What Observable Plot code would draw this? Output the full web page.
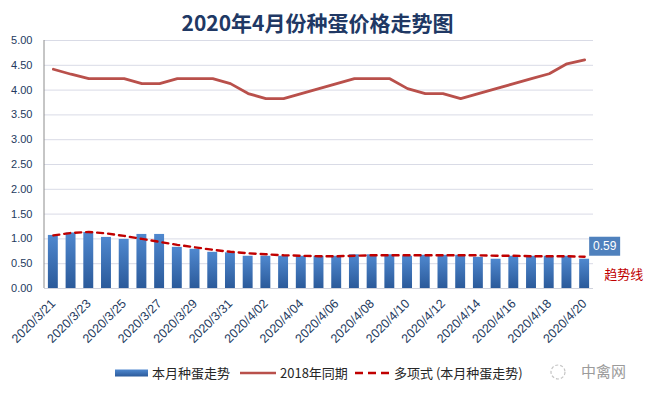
<!DOCTYPE html>
<html><head><meta charset="utf-8">
<script src="https://cdn.jsdelivr.net/npm/d3@7"></script>
<script src="https://cdn.jsdelivr.net/npm/@observablehq/plot@0.6"></script>
<style>
body{margin:0;background:#fff;}
#wrap{position:relative;width:647px;height:393px;overflow:hidden;background:#fff;font-family:"Noto Sans CJK SC","Liberation Sans",sans-serif;}
#title{position:absolute;top:7px;left:0;width:635px;text-align:center;font-size:21px;font-weight:bold;color:#203864;line-height:30px;}
#chart{position:absolute;top:0;left:0;}
.lg{position:absolute;font-size:13px;color:#262626;line-height:18px;top:364px;white-space:nowrap;}
</style>
</head><body>
<div id="wrap">
  <div id="chart"></div>
  <div id="title">2020年4月份种蛋价格走势图</div>
  <div id="legend"></div>
</div>
<script>
const dates = ["2020/3/21","2020/3/22","2020/3/23","2020/3/24","2020/3/25","2020/3/26","2020/3/27","2020/3/28","2020/3/29","2020/3/30","2020/3/31",
  "2020/4/01","2020/4/02","2020/4/03","2020/4/04","2020/4/05","2020/4/06","2020/4/07","2020/4/08","2020/4/09","2020/4/10",
  "2020/4/11","2020/4/12","2020/4/13","2020/4/14","2020/4/15","2020/4/16","2020/4/17","2020/4/18","2020/4/19","2020/4/20"];
const price2020 = [1.07,1.12,1.13,1.03,0.99,1.09,1.09,0.83,0.79,0.73,0.72,0.65,0.65,0.65,0.65,0.65,0.65,0.68,0.68,0.68,0.65,0.67,0.67,0.67,0.63,0.59,0.65,0.65,0.65,0.65,0.59];
const price2018 = [4.42,4.32,4.23,4.23,4.23,4.13,4.13,4.23,4.23,4.23,4.13,3.93,3.83,3.83,3.93,4.03,4.13,4.23,4.23,4.23,4.03,3.93,3.93,3.83,3.93,4.03,4.13,4.23,4.33,4.53,4.61];
const trend = [1.07,1.12,1.14,1.11,1.06,1.00,0.94,0.88,0.83,0.78,0.74,0.71,0.69,0.67,0.66,0.65,0.65,0.66,0.67,0.67,0.67,0.67,0.67,0.67,0.67,0.66,0.66,0.65,0.65,0.65,0.64];
const yTicks = [0,0.5,1,1.5,2,2.5,3,3.5,4,4.5,5];
const xTicks = dates.filter((d,i) => i % 2 === 0);
const lastLabel = "0.59";
const seriesNames = ["本月种蛋走势","2018年同期","多项式 (本月种蛋走势)"];
const noteText = "趋势线";
const watermark = "中禽网";

const data = dates.map((d,i) => ({date: d, bar: price2020[i], y18: price2018[i], trend: trend[i]}));
const last = data[data.length - 1];
const boxSymbol = {draw(ctx) { ctx.rect(-15.5, -9.5, 31, 19); }};
const tickColor = "#243a5e";

const yAxisLine = (index, scales, values, dims) => {
  const l = d3.create("svg:line")
    .attr("x1", dims.marginLeft).attr("x2", dims.marginLeft)
    .attr("y1", dims.marginTop).attr("y2", dims.height - dims.marginBottom)
    .attr("stroke", "#8c8c8c").attr("stroke-width", 1);
  return l.node();
};

const chart = Plot.plot({
  width: 647, height: 355,
  marginTop: 40, marginBottom: 67, marginLeft: 44, marginRight: 54,
  style: {fontFamily: "'Liberation Sans', sans-serif", fontSize: "11px", color: tickColor, background: "transparent"},
  x: {type: "band", domain: dates, paddingInner: 0.44, paddingOuter: 0.22, round: false, label: null, axis: null},
  y: {domain: [0,5], label: null, axis: null},
  marks: [
    Plot.gridY(yTicks, {stroke: "#d9dbe6", strokeOpacity: 1}),
    Plot.axisY(yTicks, {tickSize: 0, tickPadding: 12, tickFormat: d => d.toFixed(2), fill: tickColor, fontSize: 11, label: null}),
    Plot.axisX(xTicks, {tickSize: 0, tickPadding: 13, tickRotate: -45, fill: tickColor, fontSize: 12.5, label: null}),
    Plot.barY(data, {x: "date", y: "bar", fill: "url(#barGrad)"}),
    Plot.ruleY([0], {stroke: "#d0d2dc"}),
    yAxisLine,
    Plot.lineY(data, {x: "date", y: "y18", stroke: "#b9504b", strokeWidth: 2.8}),
    Plot.lineY(data, {x: "date", y: "trend", stroke: "#c00000", strokeWidth: 2.4, strokeDasharray: "6,5"}),
    Plot.dot([last], {x: "date", y: "bar", symbol: boxSymbol, fill: "#4f81bd", stroke: "none", dx: 20, dy: -13, r: 10}),
    Plot.text([last], {x: "date", y: "bar", text: () => lastLabel, fill: "white", fontSize: 12, dx: 20, dy: -13}),
    Plot.text([last], {x: "date", y: "bar", text: () => noteText, fill: "#c00000", fontSize: 13, dx: 39, dy: 16, fontFamily: "'Noto Sans CJK SC', sans-serif"})
  ]
});
d3.select(chart).insert("defs", ":first-child").html(
  `<linearGradient id="barGrad" x1="0" y1="0" x2="0" y2="1"><stop offset="0" stop-color="#4f88cf"/><stop offset="1" stop-color="#2b5a9a"/></linearGradient>`);
document.getElementById("chart").appendChild(chart);

const lg = document.getElementById("legend");
lg.innerHTML = `
<svg style="position:absolute;left:0;top:0" width="647" height="393">
  <defs><linearGradient id="lgGrad" x1="0" y1="0" x2="0" y2="1"><stop offset="0" stop-color="#4f88cf"/><stop offset="1" stop-color="#2b5a9a"/></linearGradient></defs>
  <rect x="115" y="369.5" width="33" height="7" fill="url(#lgGrad)"/>
  <line x1="240" x2="276" y1="373" y2="373" stroke="#b9504b" stroke-width="2.5"/>
  <line x1="355" x2="391" y1="373" y2="373" stroke="#c00000" stroke-width="2.5" stroke-dasharray="8,5"/>
  <circle cx="558" cy="372" r="7" fill="none" stroke="#c4c4c4" stroke-width="1.2" stroke-dasharray="3,2"/>
</svg>
<span class="lg" style="left:152px">${seriesNames[0]}</span>
<span class="lg" style="left:280px">${seriesNames[1]}</span>
<span class="lg" style="left:394px">${seriesNames[2]}</span>
<span class="lg" style="left:581px;font-size:15px;color:#9b9b9b;top:362px">${watermark}</span>`;
</script>
</body></html>
